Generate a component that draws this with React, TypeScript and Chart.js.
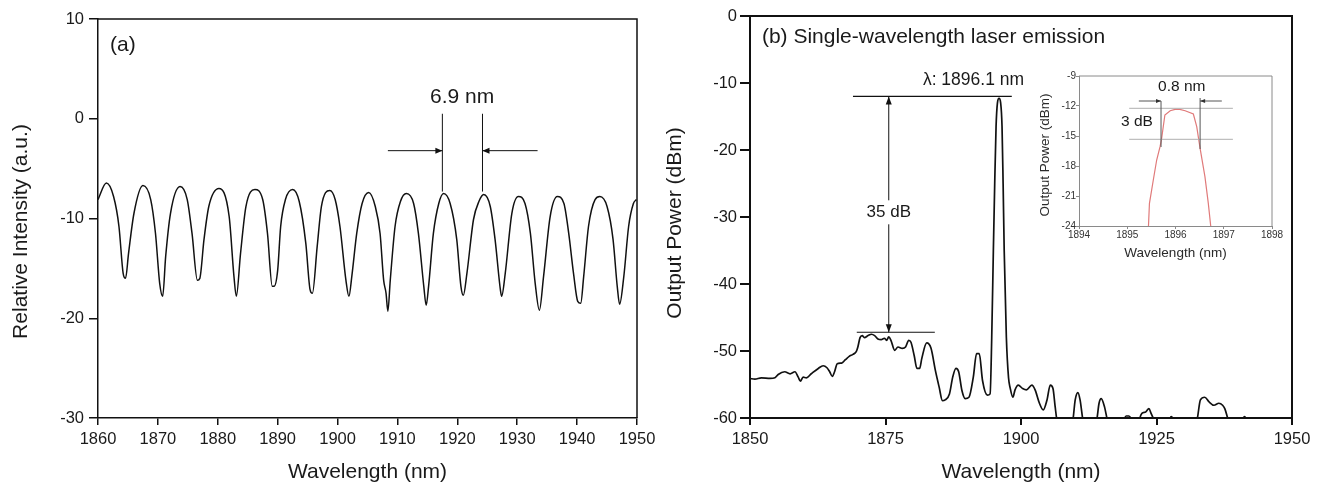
import React, { useEffect, useRef } from 'react';
import { Chart, registerables } from 'chart.js';

Chart.register(...registerables);

// ---------------- data ----------------
// (a) comb-filter transmission
const A_WL = [
  1860.0, 1861.4, 1862.6, 1863.5, 1864.2, 1864.6, 1865.1, 1866.0, 1867.5, 1868.8,
  1869.6, 1870.3, 1870.8, 1871.3, 1872.1, 1873.7, 1874.9, 1875.7, 1876.6, 1877.0,
  1877.7, 1878.5, 1880.2, 1881.9, 1882.7, 1883.1, 1883.8, 1884.7, 1886.2, 1887.5,
  1888.3, 1889.1, 1889.4, 1890.0, 1890.5, 1891.3, 1892.5, 1893.6, 1894.7, 1895.4,
  1895.8, 1896.6, 1897.3, 1898.7, 1899.6, 1900.4, 1901.4, 1901.9, 1902.4, 1903.2,
  1904.1, 1905.2, 1906.3, 1907.1, 1907.7, 1908.1, 1908.4, 1908.8, 1909.6, 1910.5,
  1911.5, 1912.7, 1913.5, 1914.4, 1914.8, 1915.2, 1916.0, 1916.9, 1917.7, 1918.8,
  1919.9, 1920.6, 1921.0, 1921.6, 1922.7, 1923.6, 1924.4, 1925.5, 1926.3, 1927.2,
  1927.4, 1928.0, 1929.1, 1930.2, 1931.3, 1932.2, 1933.0, 1933.7, 1934.4, 1935.5,
  1936.7, 1937.8, 1938.6, 1939.4, 1940.1, 1940.6, 1941.1, 1941.9, 1943.0, 1943.8,
  1945.0, 1946.0, 1946.7, 1947.1, 1947.8, 1948.6, 1949.4, 1949.9,
];
const A_INT = [
  -8.1, -6.45, -7.8, -10.8, -15.5, -16.0, -13.5, -9.5, -6.7, -8.1,
  -11.5, -16.5, -17.8, -13.8, -9.5, -6.8, -8.1, -11.5, -16.2, -16.0,
  -12.1, -8.8, -7.0, -9.8, -15.8, -17.8, -13.5, -8.8, -7.1, -8.1,
  -11.5, -16.8, -16.8, -15.2, -10.8, -8.1, -7.1, -8.3, -12.5, -17.1,
  -17.5, -12.8, -8.8, -7.2, -8.1, -10.8, -16.2, -17.8, -15.7, -11.5,
  -8.5, -7.4, -8.8, -11.5, -16.2, -17.5, -19.3, -16.2, -10.8, -8.3,
  -7.5, -8.5, -11.5, -16.8, -18.7, -16.8, -11.5, -8.5, -7.5, -8.5,
  -12.1, -16.8, -17.7, -15.5, -10.1, -8.3, -7.6, -8.8, -12.1, -17.2,
  -17.8, -15.5, -9.5, -7.8, -8.5, -11.5, -16.5, -19.2, -15.8, -9.8,
  -7.8, -8.5, -11.5, -15.5, -18.3, -18.5, -15.8, -10.8, -8.1, -7.8,
  -8.8, -12.1, -16.8, -18.6, -15.8, -10.8, -8.5, -8.1,
];
const A_X_TICKS = [1860, 1870, 1880, 1890, 1900, 1910, 1920, 1930, 1940, 1950];
const A_Y_TICKS = [-30, -20, -10, 0, 10];

// (b) laser output spectrum
const B_WL = [
  1850.0, 1850.9, 1852.1, 1853.7, 1854.6, 1855.2, 1856.4, 1857.4, 1858.3, 1858.9,
  1859.3, 1859.8, 1860.4, 1861.3, 1862.6, 1863.5, 1864.2, 1864.7, 1865.2, 1865.6,
  1866.1, 1866.9, 1867.6, 1868.3, 1869.0, 1869.6, 1869.9, 1870.3, 1870.7, 1871.1,
  1871.8, 1872.4, 1873.0, 1873.6, 1874.2, 1874.8, 1875.2, 1875.6, 1876.0, 1876.7,
  1877.3, 1878.1, 1878.7, 1879.3, 1879.7, 1880.3, 1880.8, 1881.3, 1881.7, 1882.6,
  1883.4, 1884.2, 1884.9, 1885.5, 1886.0, 1886.8, 1887.4, 1888.0, 1888.5, 1889.1,
  1889.7, 1890.4, 1891.2, 1891.8, 1892.3, 1892.9, 1893.8, 1894.3, 1894.6, 1894.9,
  1895.15, 1895.4, 1895.65, 1895.95, 1896.25, 1896.5, 1896.7, 1896.9, 1897.3, 1897.7,
  1898.0, 1898.5, 1898.9, 1899.5, 1900.3, 1901.0, 1902.0, 1902.6, 1903.4, 1904.1,
  1904.8, 1905.4, 1905.9, 1906.3, 1906.6, 1907.2, 1908.5, 1909.3, 1909.6, 1910.0,
  1910.5, 1910.9, 1911.4, 1912.0, 1913.4, 1914.0, 1914.4, 1914.8, 1915.4, 1915.9,
  1916.5, 1918.5, 1919.1, 1919.4, 1919.9, 1920.3, 1921.0, 1921.6, 1921.9, 1922.3,
  1923.0, 1923.6, 1924.0, 1924.5, 1925.5, 1927.0, 1927.5, 1927.7, 1928.0, 1928.5,
  1931.5, 1932.5, 1933.1, 1933.9, 1934.7, 1935.6, 1936.5, 1937.2, 1937.6, 1938.2,
  1939.0, 1940.5, 1941.0, 1941.2, 1941.5, 1942.0, 1950.0,
];
const B_POW = [
  -54.1, -54.2, -54.0, -54.1, -54.0, -53.5, -53.1, -53.4, -53.1, -53.9,
  -54.5, -53.9, -54.0, -53.4, -52.6, -52.2, -52.5, -53.1, -53.8, -53.1,
  -51.9, -51.8, -51.3, -50.8, -50.5, -50.1, -49.4, -48.0, -47.7, -48.0,
  -47.7, -47.5, -47.7, -48.2, -48.3, -48.1, -48.4, -47.9, -48.4, -49.9,
  -49.4, -49.6, -49.4, -48.4, -48.7, -50.7, -52.6, -52.6, -51.1, -48.8,
  -49.6, -52.9, -55.4, -57.4, -57.3, -56.4, -53.9, -52.6, -53.1, -55.9,
  -57.1, -56.9, -53.9, -50.4, -50.4, -54.4, -56.6, -56.4, -48.0, -35.0,
  -25.0, -16.5, -13.0, -12.3, -13.0, -16.5, -25.0, -35.0, -48.0, -54.0,
  -55.5, -56.9, -55.8, -55.1, -55.6, -55.8, -55.1, -55.8, -57.8, -58.8,
  -57.3, -55.1, -55.6, -58.3, -60.2, -62.0, -62.5, -61.5, -60.2, -57.3,
  -56.2, -57.3, -60.2, -62.0, -62.0, -60.2, -57.8, -57.1, -58.3, -60.2,
  -62.0, -62.0, -60.1, -59.7, -59.7, -60.1, -62.0, -61.5, -60.1, -59.3,
  -59.1, -58.6, -59.3, -60.2, -62.0, -61.5, -60.1, -59.8, -60.1, -62.0,
  -62.0, -60.2, -57.3, -56.9, -57.6, -58.1, -57.8, -58.1, -58.6, -60.2,
  -62.0, -61.0, -60.1, -59.8, -60.1, -62.0, -62.0,
];
const B_X_TICKS = [1850, 1875, 1900, 1925, 1950];
const B_Y_TICKS = [-60, -50, -40, -30, -20, -10, 0];

// (b) inset: zoom on the lasing line
const INSET_WL = [
  1895.44, 1895.46, 1895.54, 1895.61, 1895.68, 1895.71, 1895.78, 1895.89, 1895.99,
  1896.09, 1896.2, 1896.37, 1896.44, 1896.51, 1896.61, 1896.68, 1896.73,
];
const INSET_POW = [
  -24, -21.73, -19.4, -17.4, -16.07, -15.33, -12.9, -12.47, -12.33,
  -12.33, -12.47, -12.8, -14.07, -16.23, -19.07, -21.73, -24,
];
const INSET_X_TICKS = [1894, 1895, 1896, 1897, 1898];
const INSET_Y_TICKS = [-24, -21, -18, -15, -12, -9];

// annotations (data coordinates)
const A_PANEL_LABEL = '(a)';
const A_PANEL_POS = [1862.0, 7.4];
const A_FSR_LABEL = '6.9 nm';
const A_FSR_LABEL_POS = [1920.8, 2.2];
const A_FSR_MARKS = [1917.5, 1924.2];
const A_FSR_MARK_RANGE = [0.5, -7.3];
const A_FSR_ARROW_FROM = [1908.4, 1933.4];
const A_FSR_ARROW_Y = -3.2;

const B_PANEL_LABEL = '(b) Single-wavelength laser emission';
const B_PANEL_POS = [1852.2, -3.1];
const B_PEAK_LABEL = 'λ: 1896.1 nm';
const B_PEAK_LABEL_POS = [1881.9, -9.55];
const B_PEAK_LINE = [1869.0, 1898.3, -12.0];
const B_FLOOR_LINE = [1869.7, 1884.1, -47.2];
const B_SMSR_X = 1875.6;
const B_SMSR_LABEL = '35 dB';
const B_SMSR_LABEL_Y = -29.3;

const IN_WIDTH_LABEL = '0.8 nm';
const IN_WIDTH_LABEL_POS = [1896.13, -10.1];
const IN_DB_LABEL = '3 dB';
const IN_DB_LABEL_POS = [1895.2, -13.6];
const IN_LEVELS = [-12.23, -15.33];
const IN_LEVEL_SPAN = [1895.04, 1897.19];
const IN_EDGES = [1895.7, 1896.51];
const IN_EDGE_RANGES = [[-11.5, -16.1], [-11.2, -16.3]];
const IN_ARROW_FROM = [1895.24, 1896.96];
const IN_ARROW_Y = -11.5;

// ---------------- styling helpers ----------------
const FONT = "'Liberation Sans', Arial, Helvetica, sans-serif";
const INK = '#111111';
const TEXT = '#1a1a1a';

const toPts = (xs: number[], ys: number[]) => xs.map((x, i) => ({ x, y: ys[i] }));

function arrowHead(ctx: CanvasRenderingContext2D, x1: number, y1: number, x2: number, y2: number, len: number, half: number) {
  const ang = Math.atan2(y2 - y1, x2 - x1);
  const c = Math.cos(ang);
  const s = Math.sin(ang);
  ctx.beginPath();
  ctx.moveTo(x2, y2);
  ctx.lineTo(x2 - len * c + half * s, y2 - len * s - half * c);
  ctx.lineTo(x2 - len * c - half * s, y2 - len * s + half * c);
  ctx.closePath();
  ctx.fill();
}

function arrow(ctx: CanvasRenderingContext2D, x1: number, y1: number, x2: number, y2: number, len = 7, half = 3) {
  ctx.beginPath();
  ctx.moveTo(x1, y1);
  ctx.lineTo(x2, y2);
  ctx.stroke();
  arrowHead(ctx, x1, y1, x2, y2, len, half);
}

function seg(ctx: CanvasRenderingContext2D, x1: number, y1: number, x2: number, y2: number) {
  ctx.beginPath();
  ctx.moveTo(x1, y1);
  ctx.lineTo(x2, y2);
  ctx.stroke();
}

function axis(opts: {
  ticks: number[]; min: number; max: number; horizontal: boolean; fit: number;
  fontSize: number; color: string; labelColor: string; tickLen: number; pad: number; lineW: number;
}) {
  return {
    type: 'linear',
    min: opts.min,
    max: opts.max,
    afterBuildTicks: (s: any) => {
      s.ticks = opts.ticks.map((v) => ({ value: v }));
    },
    afterFit: (s: any) => {
      if (opts.horizontal) s.height = opts.fit;
      else s.width = opts.fit;
    },
    grid: {
      drawOnChartArea: false,
      drawTicks: true,
      tickLength: opts.tickLen,
      color: opts.color,
      lineWidth: opts.lineW,
    },
    border: { display: true, color: opts.color, width: opts.lineW },
    ticks: {
      font: { family: FONT, size: opts.fontSize },
      color: opts.labelColor,
      padding: opts.pad,
      autoSkip: false,
      maxRotation: 0,
      minRotation: 0,
      callback: (v: any) => String(v),
    },
    title: { display: false },
  };
}

function framePlugin(color: string, width: number) {
  return {
    id: 'frame',
    afterDraw(chart: any) {
      const { ctx, chartArea: a } = chart;
      ctx.save();
      ctx.strokeStyle = color;
      ctx.lineWidth = width;
      ctx.beginPath();
      ctx.moveTo(a.left, a.top);
      ctx.lineTo(a.right, a.top);
      ctx.lineTo(a.right, a.bottom);
      ctx.stroke();
      ctx.restore();
    },
  };
}

function titlesPlugin(xTitle: string, yTitle: string, font: string, color: string, xTitleY: number, yTitleDx: number, yTitleDy: number) {
  return {
    id: 'titles',
    afterDraw(chart: any) {
      const { ctx, chartArea: a } = chart;
      ctx.save();
      ctx.fillStyle = color;
      ctx.font = font;
      ctx.textAlign = 'center';
      ctx.textBaseline = 'middle';
      ctx.fillText(xTitle, (a.left + a.right) / 2, xTitleY);
      ctx.translate(a.left - yTitleDx, (a.top + a.bottom) / 2 + yTitleDy);
      ctx.rotate(-Math.PI / 2);
      ctx.fillText(yTitle, 0, 0);
      ctx.restore();
    },
  };
}

const annotA = {
  id: 'annotA',
  afterDraw(chart: any) {
    const { ctx } = chart;
    const X = (v: number) => chart.scales.x.getPixelForValue(v);
    const Y = (v: number) => chart.scales.y.getPixelForValue(v);
    ctx.save();
    ctx.fillStyle = TEXT;
    ctx.strokeStyle = INK;
    ctx.font = `21px ${FONT}`;
    ctx.textBaseline = 'middle';
    ctx.textAlign = 'left';
    ctx.fillText(A_PANEL_LABEL, X(A_PANEL_POS[0]), Y(A_PANEL_POS[1]));
    ctx.textAlign = 'center';
    ctx.fillText(A_FSR_LABEL, X(A_FSR_LABEL_POS[0]), Y(A_FSR_LABEL_POS[1]));
    ctx.lineWidth = 1;
    ctx.fillStyle = INK;
    A_FSR_MARKS.forEach((m) => seg(ctx, X(m), Y(A_FSR_MARK_RANGE[0]), X(m), Y(A_FSR_MARK_RANGE[1])));
    A_FSR_ARROW_FROM.forEach((f, i) => arrow(ctx, X(f), Y(A_FSR_ARROW_Y), X(A_FSR_MARKS[i]), Y(A_FSR_ARROW_Y), 7, 3));
    ctx.restore();
  },
};

const annotB = {
  id: 'annotB',
  afterDraw(chart: any) {
    const { ctx } = chart;
    const X = (v: number) => chart.scales.x.getPixelForValue(v);
    const Y = (v: number) => chart.scales.y.getPixelForValue(v);
    ctx.save();
    ctx.fillStyle = TEXT;
    ctx.strokeStyle = INK;
    ctx.textBaseline = 'middle';
    ctx.textAlign = 'left';
    ctx.font = `21px ${FONT}`;
    ctx.fillText(B_PANEL_LABEL, X(B_PANEL_POS[0]), Y(B_PANEL_POS[1]));
    ctx.font = `17.5px ${FONT}`;
    ctx.fillText(B_PEAK_LABEL, X(B_PEAK_LABEL_POS[0]), Y(B_PEAK_LABEL_POS[1]));
    ctx.lineWidth = 1.2;
    seg(ctx, X(B_PEAK_LINE[0]), Y(B_PEAK_LINE[2]), X(B_PEAK_LINE[1]), Y(B_PEAK_LINE[2]));
    seg(ctx, X(B_FLOOR_LINE[0]), Y(B_FLOOR_LINE[2]), X(B_FLOOR_LINE[1]), Y(B_FLOOR_LINE[2]));
    const ax = X(B_SMSR_X);
    const yTop = Y(B_PEAK_LINE[2]);
    const yBot = Y(B_FLOOR_LINE[2]);
    const yMid = Y(B_SMSR_LABEL_Y);
    ctx.fillStyle = INK;
    ctx.lineWidth = 1;
    arrow(ctx, ax, yMid, ax, yTop, 8, 3);
    arrow(ctx, ax, yMid, ax, yBot, 8, 3);
    ctx.font = `17px ${FONT}`;
    const w = ctx.measureText(B_SMSR_LABEL).width;
    ctx.fillStyle = '#ffffff';
    ctx.fillRect(ax - w / 2 - 3, yMid - 12, w + 6, 24);
    ctx.fillStyle = TEXT;
    ctx.textAlign = 'center';
    ctx.fillText(B_SMSR_LABEL, ax, yMid);
    ctx.restore();
  },
};

const annotInset = {
  id: 'annotInset',
  afterDraw(chart: any) {
    const { ctx } = chart;
    const X = (v: number) => chart.scales.x.getPixelForValue(v);
    const Y = (v: number) => chart.scales.y.getPixelForValue(v);
    ctx.save();
    ctx.lineWidth = 1;
    ctx.strokeStyle = '#b0b0b0';
    IN_LEVELS.forEach((l) => seg(ctx, X(IN_LEVEL_SPAN[0]), Y(l), X(IN_LEVEL_SPAN[1]), Y(l)));
    ctx.strokeStyle = '#555555';
    ctx.fillStyle = '#333333';
    IN_EDGES.forEach((e, i) => seg(ctx, X(e), Y(IN_EDGE_RANGES[i][0]), X(e), Y(IN_EDGE_RANGES[i][1])));
    IN_ARROW_FROM.forEach((f, i) => arrow(ctx, X(f), Y(IN_ARROW_Y), X(IN_EDGES[i]), Y(IN_ARROW_Y), 5, 2));
    ctx.fillStyle = TEXT;
    ctx.font = `15.5px ${FONT}`;
    ctx.textAlign = 'center';
    ctx.textBaseline = 'middle';
    ctx.fillText(IN_WIDTH_LABEL, X(IN_WIDTH_LABEL_POS[0]), Y(IN_WIDTH_LABEL_POS[1]));
    ctx.fillText(IN_DB_LABEL, X(IN_DB_LABEL_POS[0]), Y(IN_DB_LABEL_POS[1]));
    ctx.restore();
  },
};

function baseOptions(padding: any) {
  return {
    responsive: false,
    animation: false as const,
    devicePixelRatio: 1,
    layout: { padding },
    plugins: { legend: { display: false }, tooltip: { enabled: false }, title: { display: false } },
    events: [] as any[],
  };
}

export default function App() {
  const aRef = useRef<HTMLCanvasElement>(null);
  const bRef = useRef<HTMLCanvasElement>(null);
  const iRef = useRef<HTMLCanvasElement>(null);

  useEffect(() => {
    const charts: Chart[] = [];

    charts.push(
      new Chart(aRef.current as HTMLCanvasElement, {
        type: 'line',
        data: {
          datasets: [
            {
              data: toPts(A_WL, A_INT),
              borderColor: INK,
              borderWidth: 1.5,
              pointRadius: 0,
              cubicInterpolationMode: 'monotone',
              fill: false,
            },
          ],
        },
        options: {
          ...baseOptions({ top: 19, right: 28, left: 0, bottom: 0 }),
          scales: {
            x: axis({ ticks: A_X_TICKS, min: 1860, max: 1950, horizontal: true, fit: 71, fontSize: 16.5, color: INK, labelColor: TEXT, tickLen: 7, pad: 5, lineW: 1.5 }),
            y: axis({ ticks: A_Y_TICKS, min: -30, max: 10, horizontal: false, fit: 98, fontSize: 16.5, color: INK, labelColor: TEXT, tickLen: 9, pad: 5, lineW: 1.5 }),
          },
        } as any,
        plugins: [framePlugin(INK, 1.5), titlesPlugin('Wavelength (nm)', 'Relative Intensity (a.u.)', `21px ${FONT}`, TEXT, 472, 77, 13), annotA],
      })
    );

    charts.push(
      new Chart(bRef.current as HTMLCanvasElement, {
        type: 'line',
        data: {
          datasets: [
            {
              data: toPts(B_WL, B_POW),
              borderColor: INK,
              borderWidth: 1.7,
              pointRadius: 0,
              cubicInterpolationMode: 'monotone',
              fill: false,
            },
          ],
        },
        options: {
          ...baseOptions({ top: 16, right: 33, left: 0, bottom: 0 }),
          scales: {
            x: axis({ ticks: B_X_TICKS, min: 1850, max: 1950, horizontal: true, fit: 71, fontSize: 16.5, color: INK, labelColor: TEXT, tickLen: 7, pad: 5, lineW: 2 }),
            y: axis({ ticks: B_Y_TICKS, min: -60, max: 0, horizontal: false, fit: 85, fontSize: 16.5, color: INK, labelColor: TEXT, tickLen: 10, pad: 3, lineW: 2 }),
          },
        } as any,
        plugins: [framePlugin(INK, 2), titlesPlugin('Wavelength (nm)', 'Output Power (dBm)', `21px ${FONT}`, TEXT, 472, 75, 6), annotB],
      })
    );

    charts.push(
      new Chart(iRef.current as HTMLCanvasElement, {
        type: 'line',
        data: {
          datasets: [
            {
              data: toPts(INSET_WL, INSET_POW),
              borderColor: '#e07a7a',
              borderWidth: 1.2,
              pointRadius: 0,
              tension: 0,
              fill: false,
            },
          ],
        },
        options: {
          ...baseOptions({ top: 16, right: 18, left: 0, bottom: 0 }),
          scales: {
            x: axis({ ticks: INSET_X_TICKS, min: 1894, max: 1898, horizontal: true, fit: 44, fontSize: 10, color: '#8a8a8a', labelColor: '#333333', tickLen: 3, pad: 0, lineW: 1 }),
            y: axis({ ticks: INSET_Y_TICKS, min: -24, max: -9, horizontal: false, fit: 79, fontSize: 10, color: '#8a8a8a', labelColor: '#333333', tickLen: 3, pad: 0, lineW: 1 }),
          },
        } as any,
        plugins: [framePlugin('#8a8a8a', 1), titlesPlugin('Wavelength (nm)', 'Output Power (dBm)', `13.5px ${FONT}`, '#2a2a2a', 193, 34, 4), annotInset],
      })
    );

    return () => charts.forEach((c) => c.destroy());
  }, []);

  return (
    <div style={{ position: 'fixed', left: 0, top: 0, width: 1325, height: 489, background: '#ffffff', overflow: 'hidden' }}>
      <canvas ref={aRef} width={665} height={489} style={{ position: 'absolute', left: 0, top: 0, width: 665, height: 489 }} />
      <canvas ref={bRef} width={660} height={489} style={{ position: 'absolute', left: 665, top: 0, width: 660, height: 489 }} />
      <canvas ref={iRef} width={290} height={210} style={{ position: 'absolute', left: 1000, top: 60, width: 290, height: 210 }} />
    </div>
  );
}
